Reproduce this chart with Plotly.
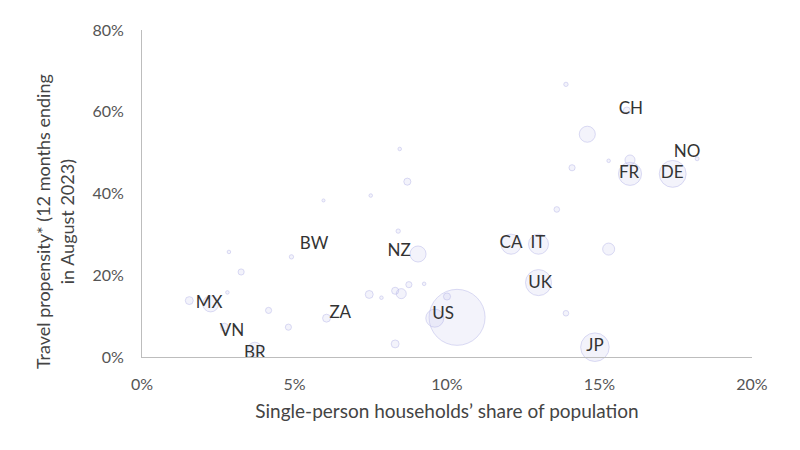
import plotly.graph_objects as go

# Bubbles: share of single-person households (%), travel propensity (%), relative size
hh_share = [13.9, 15.9, 14.6, 14.1, 15.3, 16.0, 16.0, 17.4, 18.2, 13.6,
            12.1, 13.0, 15.3, 13.0, 13.9, 14.85, 10.33, 9.6, 10.0, 9.05,
            8.4, 8.5, 8.3, 8.75, 9.25, 7.45, 7.85, 8.3, 6.05, 4.8,
            4.15, 4.9, 3.25, 2.85, 2.8, 2.25, 1.55, 2.7, 3.7, 8.45,
            8.7, 7.5, 5.95]
travel = [66.7, 60.3, 54.5, 46.3, 48.0, 44.8, 48.2, 44.8, 48.5, 36.1,
          27.6, 27.6, 26.4, 18.2, 10.7, 2.4, 9.7, 9.5, 14.8, 25.2,
          30.8, 15.5, 16.2, 17.7, 17.9, 15.3, 14.5, 3.2, 9.5, 7.3,
          11.4, 24.5, 20.8, 25.7, 15.8, 13.0, 13.8, 7.3, 1.9, 50.9,
          42.9, 39.5, 38.3]
weight = [0.6, 1.6, 8.2, 1.2, 0.4, 17.0, 3.2, 23.0, 0.5, 1.0,
          12.8, 12.8, 4.6, 21.6, 1.0, 26.0, 100.0, 10.3, 1.6, 8.2,
          0.6, 3.2, 1.6, 1.2, 0.4, 2.0, 0.4, 2.0, 2.0, 1.2,
          1.2, 0.6, 1.2, 0.4, 0.4, 8.2, 2.0, 2.0, 6.25, 0.4,
          1.6, 0.4, 0.3]

# Country labels
countries = ["CH", "NO", "FR", "DE", "BW", "NZ", "CA", "IT", "UK", "MX",
             "ZA", "US", "VN", "BR", "JP"]
label_x = [16.03, 17.87, 15.97, 17.38, 5.64, 8.43, 12.1, 12.98, 13.05, 2.2,
           6.5, 9.87, 2.95, 3.7, 14.85]
label_y = [60.4, 49.9, 44.8, 44.8, 27.4, 25.7, 27.6, 27.6, 17.9, 13.1,
           10.7, 10.4, 6.3, 0.7, 2.4]

font = "Lato"

fig = go.Figure()

fig.add_trace(go.Scatter(
    x=hh_share, y=travel, mode="markers",
    marker=dict(size=weight, sizemode="area", sizeref=100 / (2 * 28 ** 2),
                color="rgba(205,205,242,0.35)",
                line=dict(color="rgba(170,170,228,0.6)", width=1)),
    cliponaxis=False, hoverinfo="skip", showlegend=False,
))

fig.add_trace(go.Scatter(
    x=label_x, y=label_y, mode="text", text=countries,
    textfont=dict(family=font, size=17, color="#333333"),
    cliponaxis=False, hoverinfo="skip", showlegend=False,
))

fig.update_xaxes(
    range=[0, 20], tickvals=[0, 5, 10, 15, 20],
    ticktext=["0%", "5%", "10%", "15%", "20%"],
    showgrid=False, zeroline=False, showline=True, linecolor="#bdbdbd", linewidth=1,
    ticks="", ticklabelstandoff=13,
    tickfont=dict(family=font, size=16, color="#555555"),
    title=dict(text="Single-person households’ share of population",
               font=dict(family=font, size=19, color="#444444"), standoff=12),
)
fig.update_yaxes(
    range=[0, 80], tickvals=[0, 20, 40, 60, 80],
    ticktext=["0%", "20%", "40%", "60%", "80%"],
    showgrid=False, zeroline=False, showline=True, linecolor="#bdbdbd", linewidth=1,
    ticks="", ticklabelstandoff=14,
    tickfont=dict(family=font, size=16, color="#555555"),
)

fig.add_annotation(
    text="Travel propensity* (12 months ending<br>in August 2023)",
    xref="paper", yref="paper", x=-0.143, y=0.415,
    xanchor="center", yanchor="middle",
    textangle=-90, showarrow=False, align="center",
    font=dict(family=font, size=18, color="#444444"),
)

# page body adds an 8px offset, so margins are shifted to compensate
fig.update_layout(
    width=800, height=450,
    margin=dict(l=134, r=56, t=19, b=101),
    plot_bgcolor="white", paper_bgcolor="white",
)

fig.write_html("out.html")
